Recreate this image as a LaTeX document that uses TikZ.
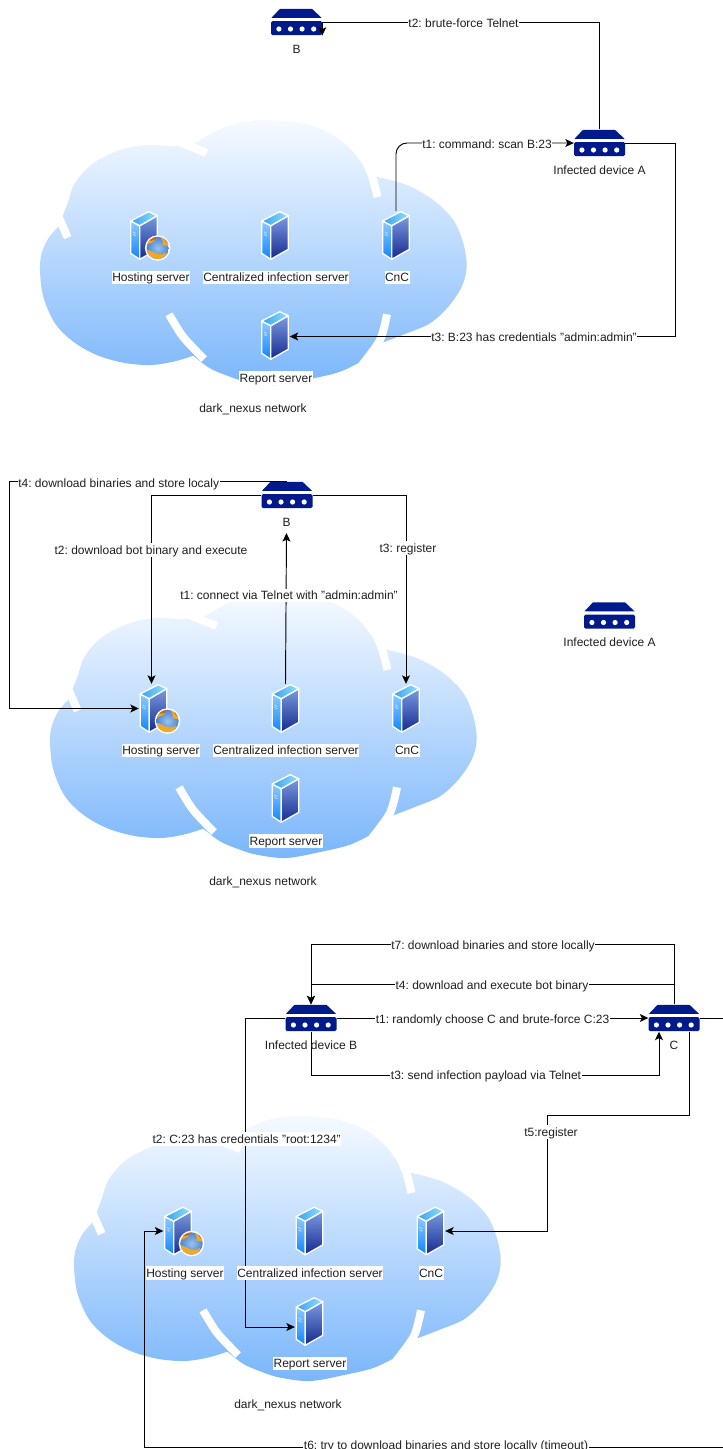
\documentclass[tikz,border=0pt]{standalone}
\usepackage{fontspec}
\setmainfont{Liberation Sans}
\usetikzlibrary{arrows.meta,calc}
\definecolor{netnavy}{HTML}{001A8C}
\definecolor{cloudtop}{HTML}{F6FAFF}
\definecolor{cloudbot}{HTML}{7AB6FB}
\definecolor{srvTopA}{HTML}{3AA0EE}
\definecolor{srvTopB}{HTML}{8FE2FF}
\definecolor{srvLeftA}{HTML}{8CCBFF}
\definecolor{srvLeftB}{HTML}{1084FF}
\definecolor{srvRightA}{HTML}{7A9BE0}
\definecolor{srvRightB}{HTML}{16298F}
\definecolor{globeBlue}{HTML}{6FA8E6}
\definecolor{globeRim}{HTML}{4C86D0}
\definecolor{globeLand}{HTML}{F2A922}
\definecolor{globeDark}{HTML}{D8641A}
\tikzset{
  conn/.style={draw=black,line width=0.95pt},
  arr/.style={conn,-{Stealth[length=8.5pt,width=8pt,inset=2pt]}},
  tag/.style={font=\fontsize{12}{14}\selectfont\frenchspacing,text=black!88,inner sep=0.5pt,text height=10.6pt,text depth=2.2pt,align=center},
  lbl/.style={tag,fill=white},
  boxR/.style={minimum width=51pt,minimum height=27pt,inner sep=0pt},
  boxS/.style={minimum width=29pt,minimum height=49pt,inner sep=0pt},
  whitearc/.style={draw=white,line width=8pt,line cap=butt},
}
\newcommand{\routericon}[3]{%
  \node[boxR] (#1) at (#2,#3) {};
  \begin{scope}[shift={(#2,#3)}]
    \fill[netnavy] (-25,-4.2) -- (-16.5,-13.2) -- (15.5,-13.2) -- (25,-4.2) -- cycle;
    \fill[netnavy,rounded corners=1.5pt] (-25.5,-1) rectangle (25.5,13.2);
    \foreach \dx in {-17.6,-6,5.6,17.2} {\fill[white] (\dx,7) circle (2.6);}
  \end{scope}}
\newcommand{\servericon}[3]{%
  \node[boxS] (#1) at (#2,#3) {};
  \begin{scope}[shift={(#2,#3)},line join=round]
    \path[draw=white,line width=1.3pt,top color=srvLeftA,bottom color=srvLeftB] (-13.3,-14.5) -- (-4.3,-9.8) -- (-4.3,23.8) -- (-13.3,17.8) -- cycle;
    \path[draw=white,line width=1.3pt,top color=srvRightA,bottom color=srvRightB] (-4.3,-9.8) -- (13.3,-19.8) -- (13.3,13.8) -- (-4.3,23.8) -- cycle;
    \path[draw=white,line width=1.3pt,left color=srvTopA,right color=srvTopB] (-13.3,-14.5) -- (4.7,-23.8) -- (13.3,-19.8) -- (-4.3,-9.8) -- cycle;
    \draw[white!80!srvLeftB,line width=0.6pt] (-11,-3.6) -- (-8,-2) (-11,-1.2) -- (-8,0.4);
  \end{scope}}
\newcommand{\globeicon}[2]{%
  \begin{scope}[shift={(#1,#2)}]
    \fill[white] (0,0) circle (12.8);
    \path[shade,inner color=globeBlue!70!white,outer color=globeRim] (0,0) circle (11.2);
    \begin{scope}
      \clip (0,0) circle (11.2);
      \fill[globeLand] (-11.5,-2) .. controls (-8,-6) and (-6,-4) .. (-3,-7) .. controls (-2,-11) and (-8,-12) .. (-12,-6) -- cycle;
      \fill[globeDark] (-9,-8) .. controls (-5,-6) and (-3,-8) .. (0,-11.5) -- (-9,-12) -- cycle;
      \fill[globeLand] (3,-11) .. controls (5,-7) and (6,-6) .. (5,-3) .. controls (8,-2) and (10,-2) .. (12,-2) -- (12,-11) -- cycle;
      \fill[globeDark] (6,-10) .. controls (8,-7) and (8,-5) .. (12,-4) -- (12,-10) -- cycle;
      \fill[globeLand] (-11,2) .. controls (-7,2) and (-5,5) .. (-3,5) .. controls (0,7) and (6,7) .. (9,4) .. controls (8,8) and (5,12) .. (-1,12) .. controls (-6,12) and (-10,7) .. (-11,2) -- cycle;
    \end{scope}
  \end{scope}}
\newcommand{\cloudicon}{%
  \path[top color=cloudtop,bottom color=cloudbot]
    plot[smooth,tension=0.55] coordinates {(58.3,226.7) (48.3,238.3) (41.7,253.3) (40,270) (43.3,296.7) (55,323.3) (73.3,341.7) (96.7,355) (123.3,362.7) (150,365) (173.3,361.7) (193.3,355.7)}
    -- plot[smooth,tension=0.55] coordinates {(193.3,355.7) (210,368.3) (230,376.7) (246.7,381.7) (276.7,385) (313.3,378.3) (340,371.7) (363.3,360) (376.7,348.3) (383.3,342.3)}
    -- plot[smooth,tension=0.55] coordinates {(383.3,342.3) (406.7,333.3) (430,323.3) (448.3,306.7) (461.7,286.7) (466.7,266.7) (463.3,243.3) (453.3,220) (433.3,200) (406.7,185) (376.7,176.7)}
    -- plot[smooth,tension=0.55] coordinates {(376.7,176.7) (363.3,165) (350,148.3) (330,133.3) (303.3,123.3) (263.3,120) (236.7,123.3) (215,131.7) (195,143.3)}
    -- plot[smooth,tension=0.55] coordinates {(195,143.3) (173.3,146) (146.7,145) (120,150) (93.3,163.3) (75,183) (67,205) (58.3,226.7)}
    -- cycle;
  \draw[whitearc] (172,139) -- (206.5,153);
  \draw[whitearc] plot[smooth] coordinates {(363,155) (372,176) (377.5,197)};
  \draw[whitearc] (57,213) -- (67.7,237.7);
  \draw[whitearc] plot[smooth] coordinates {(169,314.3) (183,336.7) (204,359)};
  \draw[whitearc] plot[smooth] coordinates {(387,314.3) (380,340) (362,365)};
}
\begin{document}
\begin{tikzpicture}[x=1pt,y=-1pt]
\useasboundingbox (0,0) rectangle (723,1449);
\fill[white] (0,0) rectangle (723,1449);
% clouds
\begin{scope}\cloudicon\end{scope}
\begin{scope}[shift={(10,473)}]\cloudicon\end{scope}
\begin{scope}[shift={(34,996)}]\cloudicon\end{scope}
% panel 1 icons
\routericon{Bone}{296.5}{22}
\routericon{Aone}{599.5}{143}
\servericon{hostone}{144}{235.5}\globeicon{157.7}{248}
\servericon{cisone}{275}{235.5}
\servericon{cncone}{396}{235.5}
\servericon{repone}{275}{335.5}
% panel 2 icons
\routericon{Btwo}{287}{495}
\routericon{Atwo}{609.5}{615.5}
\servericon{hosttwo}{153.5}{708.5}\globeicon{167.5}{721}
\servericon{cistwo}{285.5}{708.5}
\servericon{cnctwo}{406}{708.5}
\servericon{reptwo}{285.5}{798.5}
% panel 3 icons
\routericon{Bthree}{311}{1018}
\routericon{Cthree}{674}{1018}
\servericon{hostthree}{178}{1231}\globeicon{191.5}{1243.5}
\servericon{cisthree}{309.5}{1231}
\servericon{cncthree}{430.5}{1231}
\servericon{repthree}{309.5}{1321.5}
% text under routers (needed as anchor)
\node[tag] (Bonetag) at (296.5,49) {B};
\node[tag] (Aonetag) at (599.5,170) {Infected device A};
\node[tag] (Btwotag) at (286.5,522) {B};
\node[tag] (Atwotag) at (609.5,642.5) {Infected device A};
% connectors panel 1
\draw[arr,rounded corners=11pt] (cncone.north) |- (Aone.west);
\draw[arr] (Aone.north) |- (Bone.east) -- (Bone.south east);
\draw[arr] (Aone.east) -- ++(50,0) |- ([yshift=-1pt]repone.east);
% connectors panel 2
\coordinate (tfourbend) at (9.7,600);
\draw[arr] (cistwo.north) -- ([yshift=-4pt]Btwotag.south);
\draw[arr] (Btwo.west) -| ([xshift=-2pt]hosttwo.north);
\draw[arr] (Btwo.east) -| (cnctwo.north);
\draw[arr] (Btwo.north) -| (tfourbend) |- (hosttwo.west);
% connectors panel 3
\coordinate (ttwobend) at (245.5,1200);
\coordinate (tfivebend) at (547,1115);
\coordinate (edgeup) at (723,1018);
\coordinate (edgedown) at (723,1447);
\coordinate (tsixbend) at (144.7,1300);
\draw[arr] (Cthree.north) -- ++(0,-60) -| (Bthree.north);
\draw[arr] (Cthree.north) -- ++(0,-20) -| (Bthree.north);
\draw[arr] (Bthree.east) -- (Cthree.west);
\draw[arr] (Bthree.south) -- ++(0,44) -| ([xshift=-15pt]Cthree.south);
\draw[arr] (Bthree.west) -| (ttwobend) |- ([yshift=-5.5pt]repthree.west);
\draw[arr] ([xshift=15.5pt]Cthree.south) |- (tfivebend) |- (cncthree.east);
\draw[conn] (Cthree.east) -- (edgeup);
\draw[arr] (edgedown) -| (tsixbend) |- (hostthree.west);
% connector labels panel 1
\node[lbl] (ltwoa) at (463.5,23) {t2: brute-force Telnet};
\node[lbl] (lonea) at (487,144) {t1: command: scan B:23};
\node[lbl] (lthreea) at (534,337) {t3: B:23 has credentials "admin:admin"};
% connector labels panel 2
\node[lbl] (lfourb) at (118.7,483) {t4: download binaries and store localy};
\node[lbl] (ltwob) at (151,550) {t2: download bot binary and execute};
\node[lbl] (lthreeb) at (408,548) {t3: register};
\node[lbl] (loneb) at (289,595.5) {t1: connect via Telnet with "admin:admin"};
% connector labels panel 3
\node[lbl] (lsevc) at (493,945) {t7: download binaries and store locally};
\node[lbl] (lfourc) at (492,985) {t4: download and execute bot binary};
\node[lbl] (lonec) at (492.5,1019) {t1: randomly choose C and brute-force C:23};
\node[lbl] (lthreec) at (486,1075.5) {t3: send infection payload via Telnet};
\node[lbl] (ltwoc) at (246.7,1139) {t2: C:23 has credentials "root:1234"};
\node[lbl] (lfivec) at (551,1132) {t5:register};
\node[lbl] (lsixc) at (446,1445) {t6: try to download binaries and store locally (timeout)};
% node labels
\node[lbl] at (151,277.5) {Hosting server};
\node[lbl] at (276,277.5) {Centralized infection server};
\node[lbl] at (397,277.5) {CnC};
\node[lbl] at (276,378) {Report server};
\node[tag] at (253,408) {dark\_nexus network};
\node[lbl] at (161,750.5) {Hosting server};
\node[lbl] at (286,750.5) {Centralized infection server};
\node[lbl] at (407,750.5) {CnC};
\node[lbl] at (286,841) {Report server};
\node[tag] at (263,881) {dark\_nexus network};
\node[tag] at (311,1045) {Infected device B};
\node[tag] at (674,1045) {C};
\node[lbl] at (185,1273) {Hosting server};
\node[lbl] at (310,1273) {Centralized infection server};
\node[lbl] at (431,1273) {CnC};
\node[lbl] at (310,1363.5) {Report server};
\node[tag] at (288,1404) {dark\_nexus network};
\end{tikzpicture}
\end{document}
